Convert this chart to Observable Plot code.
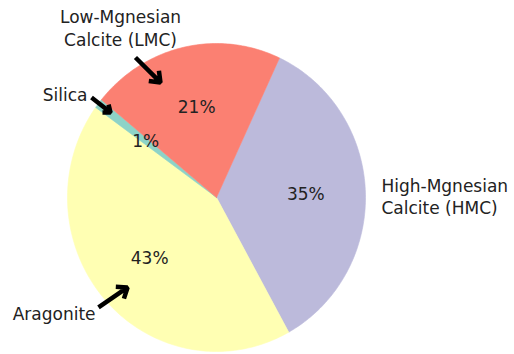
<!DOCTYPE html>
<html><head><meta charset="utf-8">
<script src="https://cdn.jsdelivr.net/npm/d3@7"></script>
<script src="https://cdn.jsdelivr.net/npm/@observablehq/plot@0.6"></script>
<style>body{margin:0;background:#fff}</style>
</head><body><div id="chart"></div>
<script>
// Data (clockwise order from start angle)
const categories = ["High-Mgnesian\nCalcite (HMC)", "Aragonite", "Silica", "Low-Mgnesian\nCalcite (LMC)"];
const shares = [35, 43, 1, 21];
const pctLabels = ["35%", "43%", "1%", "21%"];
const colors = ["#bcbadb", "#ffffb3", "#8dd3c7", "#fb8072"];

// Annotation layout (pie units, radius = 1)
const labelX = [1.107, -0.812, -0.866, -0.644];
const labelY = [0.012, -0.75, 0.672, 1.104];
const labelAnchor = ["start", "end", "end", "middle"];
const arrowFromX = [-0.792, -0.839, -0.544];
const arrowFromY = [-0.714, 0.649, 0.909];
const arrowToX = [-0.597, -0.711, -0.376];
const arrowToY = [-0.584, 0.552, 0.747];

const startAngle = 25 * Math.PI / 180;
const pie = d3.pie().sort(null).startAngle(startAngle).endAngle(startAngle + 2 * Math.PI)(shares);

const marks = [];
pie.forEach((s, i) => {
  const pts = [{x: 0, y: 0}];
  const n = Math.max(4, Math.ceil((s.endAngle - s.startAngle) / (Math.PI / 180)));
  for (let k = 0; k <= n; k++) {
    const a = s.startAngle + (s.endAngle - s.startAngle) * k / n;
    pts.push({x: Math.sin(a), y: Math.cos(a)});
  }
  pts.push({x: 0, y: 0});
  marks.push(Plot.line(pts, {x: "x", y: "y", fill: colors[i], stroke: colors[i], strokeWidth: 0.6, curve: "linear-closed"}));
});

const pctData = pie.map((s, i) => {
  const a = (s.startAngle + s.endAngle) / 2;
  return {x: 0.6 * Math.sin(a), y: 0.6 * Math.cos(a), t: pctLabels[i]};
});
marks.push(Plot.text(pctData, {x: "x", y: "y", text: "t", fontSize: 17, fill: "#222"}));

const labData = categories.map((c, i) => ({x: labelX[i], y: labelY[i], t: c, a: labelAnchor[i]}));
for (const anchor of ["start", "middle", "end"]) {
  marks.push(Plot.text(labData.filter(d => d.a === anchor), {x: "x", y: "y", text: "t", textAnchor: anchor, fontSize: 17, lineHeight: 1.35, fill: "#222"}));
}

const arrows = arrowFromX.map((x, i) => ({x1: x, y1: arrowFromY[i], x2: arrowToX[i], y2: arrowToY[i]}));
marks.push(Plot.arrow(arrows, {x1: "x1", y1: "y1", x2: "x2", y2: "y2", stroke: "black", strokeWidth: 4.5, headLength: 11, headAngle: 75, strokeLinejoin: "miter", strokeLinecap: "butt"}));

const chart = Plot.plot({
  width: 514, height: 354,
  margin: 0,
  style: {fontFamily: "DejaVu Sans, sans-serif", background: "#fff"},
  x: {domain: [-216 / 149, (514 - 216) / 149], range: [0, 514], axis: null},
  y: {domain: [-(354 - 197) / 154, 197 / 154], range: [354, 0], axis: null},
  marks
});
document.getElementById("chart").appendChild(chart);
</script>
</body></html>
